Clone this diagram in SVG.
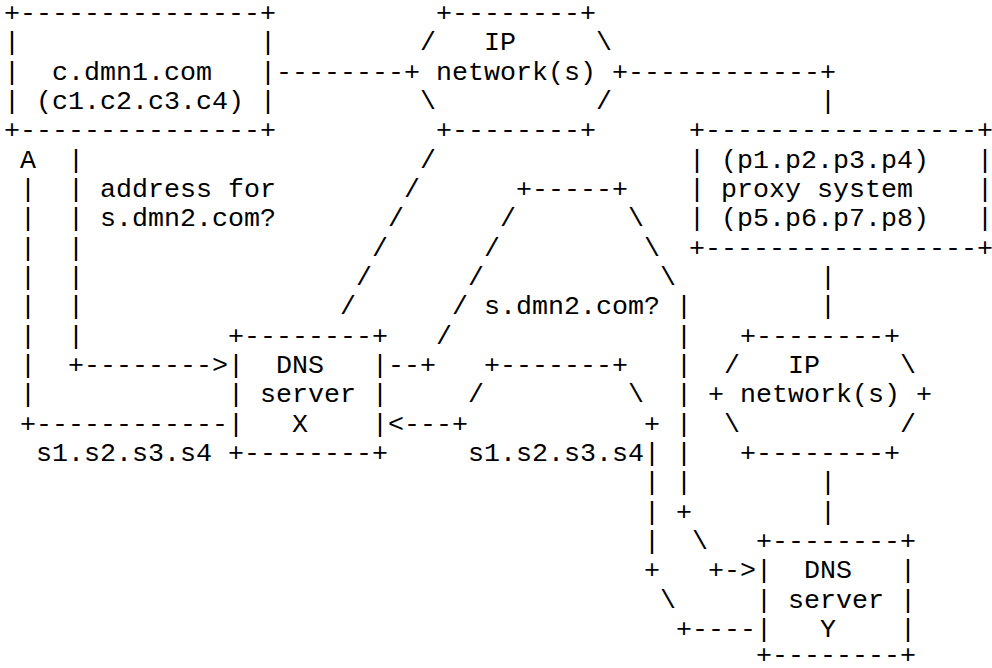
<svg xmlns="http://www.w3.org/2000/svg" width="992" height="668" viewBox="0 0 992 668">
<style>
text { font-family: "Liberation Mono", "Courier New", "DejaVu Sans Mono", monospace; font-size: 26.66px; fill: #000000; white-space: pre; }
</style>
<rect x="0" y="0" width="992" height="668" fill="#ffffff"/>
<g id="client">
<text x="4" y="21">+---------------+</text>
<text x="4" y="50.3">|</text><text x="260" y="50.3">|</text>
<text x="4" y="79.7">|</text><text x="52" y="79.7">c.dmn1.com</text><text x="260" y="79.7">|</text>
<text x="4" y="109">|</text><text x="36" y="109">(c1.c2.c3.c4)</text><text x="260" y="109">|</text>
<text x="4" y="138.3">+---------------+</text>
</g>
<g id="ip-network-1">
<text x="436" y="21">+--------+</text>
<text x="420" y="50.3">/</text><text x="484" y="50.3">IP</text><text x="596" y="50.3">\</text>
<text x="404" y="79.7">+</text><text x="436" y="79.7">network(s)</text><text x="612" y="79.7">+</text>
<text x="420" y="109">\</text><text x="596" y="109">/</text>
<text x="436" y="138.3">+--------+</text>
</g>
<g id="proxy-system">
<text x="689" y="138.3">+-----------------+</text>
<text x="689" y="167.7">|</text><text x="721" y="167.7">(p1.p2.p3.p4)</text><text x="977" y="167.7">|</text>
<text x="689" y="197">|</text><text x="721" y="197">proxy system</text><text x="977" y="197">|</text>
<text x="689" y="226.3">|</text><text x="721" y="226.3">(p5.p6.p7.p8)</text><text x="977" y="226.3">|</text>
<text x="689" y="255.7">+-----------------+</text>
</g>
<g id="ip-network-2">
<text x="740" y="343.7">+--------+</text>
<text x="724" y="373">/</text><text x="788" y="373">IP</text><text x="900" y="373">\</text>
<text x="708" y="402.3">+</text><text x="740" y="402.3">network(s)</text><text x="916" y="402.3">+</text>
<text x="724" y="431.7">\</text><text x="900" y="431.7">/</text>
<text x="740" y="461">+--------+</text>
</g>
<g id="dns-server-x">
<text x="228" y="343.7">+--------+</text>
<text x="228" y="373">|</text><text x="276" y="373">DNS</text><text x="372" y="373">|</text>
<text x="228" y="402.3">|</text><text x="260" y="402.3">server</text><text x="372" y="402.3">|</text>
<text x="228" y="431.7">|</text><text x="292" y="431.7">X</text><text x="372" y="431.7">|</text>
<text x="228" y="461">+--------+</text>
</g>
<g id="dns-server-y">
<text x="756" y="549">+--------+</text>
<text x="756" y="578.3">|</text><text x="804" y="578.3">DNS</text><text x="900" y="578.3">|</text>
<text x="756" y="607.7">|</text><text x="788" y="607.7">server</text><text x="900" y="607.7">|</text>
<text x="756" y="637">|</text><text x="820" y="637">Y</text><text x="900" y="637">|</text>
<text x="756" y="663">+--------+</text>
</g>
<g id="connectors">
<text x="276" y="79.7">--------</text>
<text x="628" y="79.7">------------+</text>
<text x="820" y="109">|</text>
<text x="420" y="167.7">/</text>
<text x="404" y="197">/</text>
<text x="388" y="226.3">/</text>
<text x="372" y="255.7">/</text>
<text x="356" y="285">/</text>
<text x="340" y="314.3">/</text>
<text x="820" y="285">|</text>
<text x="820" y="314.3">|</text>
<text x="820" y="490.3">|</text>
<text x="820" y="519.7">|</text>
<text x="68" y="167.7">|</text>
<text x="68" y="197">|</text>
<text x="68" y="226.3">|</text>
<text x="68" y="255.7">|</text>
<text x="68" y="285">|</text>
<text x="68" y="314.3">|</text>
<text x="68" y="343.7">|</text>
<text x="68" y="373">+--------&gt;</text>
<text x="100" y="197">address for</text>
<text x="100" y="226.3">s.dmn2.com?</text>
<text x="20" y="167.7">A</text>
<text x="20" y="197">|</text>
<text x="20" y="226.3">|</text>
<text x="20" y="255.7">|</text>
<text x="20" y="285">|</text>
<text x="20" y="314.3">|</text>
<text x="20" y="343.7">|</text>
<text x="20" y="373">|</text>
<text x="20" y="402.3">|</text>
<text x="20" y="431.7">+------------</text>
<text x="36" y="461">s1.s2.s3.s4</text>
<text x="388" y="373">--+</text>
<text x="436" y="343.7">/</text>
<text x="452" y="314.3">/</text>
<text x="468" y="285">/</text>
<text x="484" y="255.7">/</text>
<text x="500" y="226.3">/</text>
<text x="516" y="197">+-----+</text>
<text x="628" y="226.3">\</text>
<text x="644" y="255.7">\</text>
<text x="660" y="285">\</text>
<text x="676" y="314.3">|</text>
<text x="676" y="343.7">|</text>
<text x="676" y="373">|</text>
<text x="676" y="402.3">|</text>
<text x="676" y="431.7">|</text>
<text x="676" y="461">|</text>
<text x="676" y="490.3">|</text>
<text x="676" y="519.7">+</text>
<text x="692" y="549">\</text>
<text x="708" y="578.3">+-&gt;</text>
<text x="484" y="314.3">s.dmn2.com?</text>
<text x="676" y="637">+----</text>
<text x="660" y="607.7">\</text>
<text x="644" y="578.3">+</text>
<text x="644" y="549">|</text>
<text x="644" y="519.7">|</text>
<text x="644" y="490.3">|</text>
<text x="644" y="461">|</text>
<text x="644" y="431.7">+</text>
<text x="628" y="402.3">\</text>
<text x="484" y="373">+-------+</text>
<text x="468" y="402.3">/</text>
<text x="388" y="431.7">&lt;---+</text>
<text x="468" y="461">s1.s2.s3.s4</text>
</g>
</svg>
